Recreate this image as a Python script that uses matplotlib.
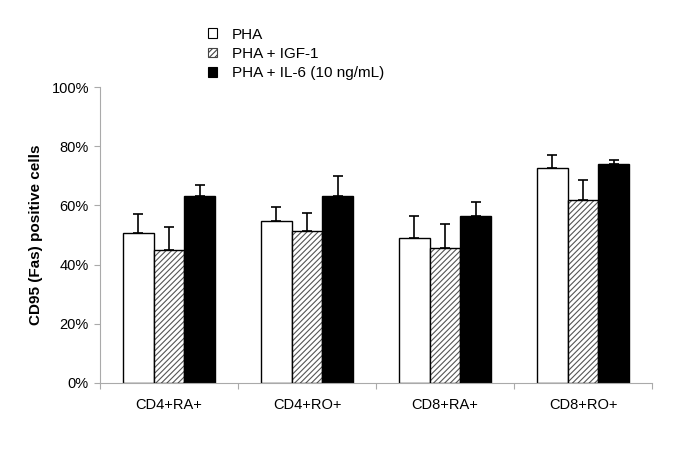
import matplotlib
matplotlib.use("Agg")
import matplotlib.pyplot as plt
import numpy as np
from matplotlib.patches import Patch

plt.rcParams['font.family'] = ['Liberation Sans', 'DejaVu Sans']

categories = ["CD4+RA+", "CD4+RO+", "CD8+RA+", "CD8+RO+"]
series_names = ["PHA", "PHA + IGF-1", "PHA + IL-6 (10 ng/mL)"]
pha = [50.8, 54.7, 48.9, 72.8]
pha_err = [6.2, 4.6, 7.6, 4.3]
igf = [44.9, 51.3, 45.5, 61.7]
igf_err = [7.9, 6.1, 8.3, 6.9]
il6 = [63.3, 63.3, 56.3, 74.0]
il6_err = [3.5, 6.5, 4.9, 1.5]
yticks = [0, 20, 40, 60, 80, 100]

fig = plt.figure(figsize=(6.85, 4.49), dpi=100)
ax = fig.add_axes([100/685, (449-383)/449, (652-100)/685, (383-87)/449])

x = np.arange(len(categories))
w = 0.224
ekw = dict(ecolor='black', elinewidth=1.2, capsize=3.5, capthick=1.2)

# PHA
ax.bar(x - w, pha, w, color='white', edgecolor='black', linewidth=1.0, zorder=2)
ax.errorbar(x - w, pha, yerr=[np.zeros(4), pha_err], fmt='none', zorder=1, **ekw)
# IGF-1 hatched
plt.rcParams['hatch.linewidth'] = 0.8
ax.bar(x, igf, w, color='white', edgecolor='#555555', hatch='//////', linewidth=0, zorder=2)
ax.bar(x, igf, w, fill=False, edgecolor='black', linewidth=1.0, zorder=3)
ax.errorbar(x, igf, yerr=[np.zeros(4), igf_err], fmt='none', zorder=1, **ekw)
# IL-6
ax.bar(x + w, il6, w, color='black', edgecolor='black', linewidth=1.0, zorder=2)
ax.errorbar(x + w, il6, yerr=[np.zeros(4), il6_err], fmt='none', zorder=1, **ekw)

ax.set_xlim(-0.5, len(categories) - 0.5)
ax.set_ylim(0, 100)
ax.set_yticks(yticks)
ax.set_yticklabels([f"{v}%" for v in yticks], fontsize=10.5)
ax.set_xticks(np.arange(len(categories) + 1) - 0.5)
ax.set_xticklabels([])
ax.set_xticks(x, minor=True)
ax.set_xticklabels(categories, minor=True, fontsize=10.5)
ax.tick_params(axis='x', which='minor', length=0, pad=11)
ax.tick_params(axis='x', which='major', length=4, color='#aaaaaa', direction='out')
ax.tick_params(axis='y', length=4, color='#aaaaaa', direction='out', pad=4)
for s in ['top', 'right']:
    ax.spines[s].set_visible(False)
for s in ['left', 'bottom']:
    ax.spines[s].set_color('#aaaaaa')
    ax.spines[s].set_linewidth(0.8)
ax.set_ylabel("CD95 (Fas) positive cells", fontsize=11, fontweight='bold', labelpad=6)

handles = [Patch(facecolor='white', edgecolor='black', linewidth=0.8),
           Patch(facecolor='white', edgecolor='#444444', hatch='//////', linewidth=0.8),
           Patch(facecolor='black', edgecolor='black', linewidth=0.8)]
fig.legend(handles, series_names, loc='upper left', bbox_to_anchor=(200/685, 1 - 20/449),
           frameon=False, fontsize=11, handlelength=0.6, handleheight=0.6,
           handletextpad=1.0, labelspacing=0.35, borderpad=0)

fig.savefig("out.png", dpi=100)
